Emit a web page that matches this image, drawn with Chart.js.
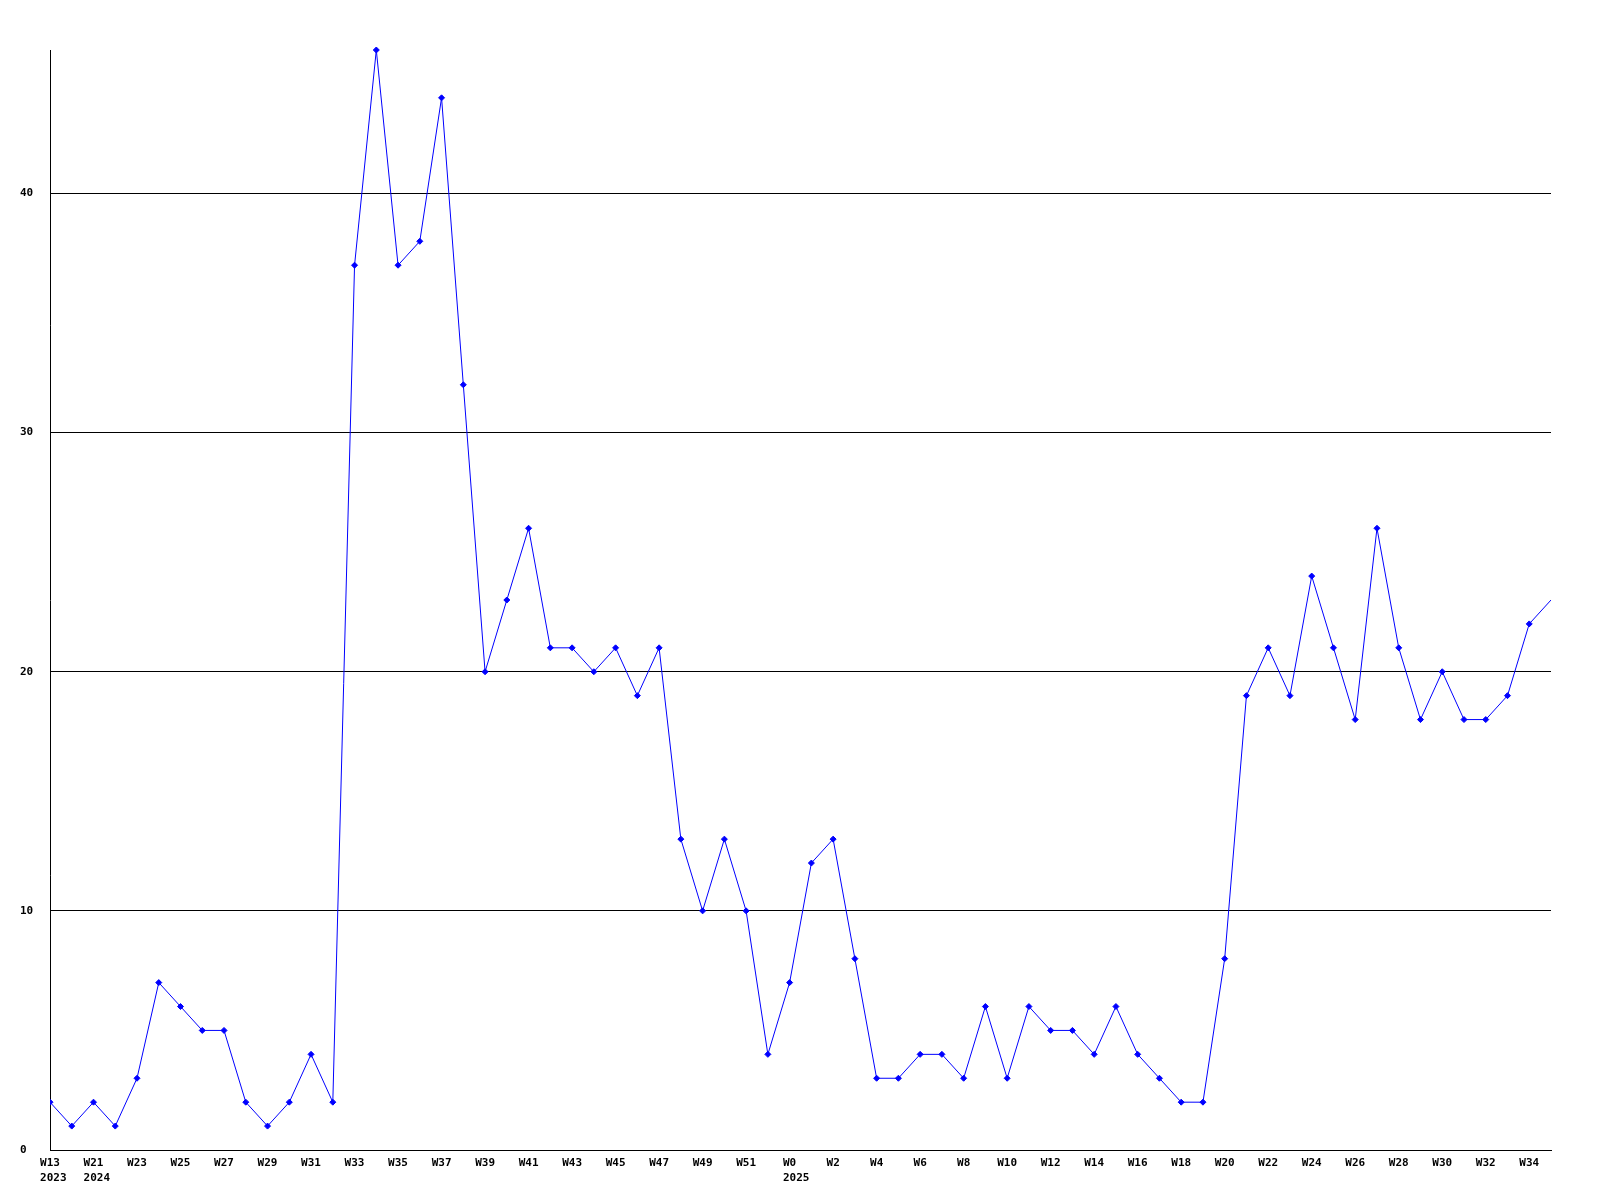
<!DOCTYPE html>
<html>
<head>
<meta charset="utf-8">
<script src="https://cdn.jsdelivr.net/npm/chart.js@4/dist/chart.umd.min.js"></script>
<style>
  body { margin: 0; background: #fff; }
  canvas { display: block; }
</style>
</head>
<body>
<canvas id="chart" width="1600" height="1200"></canvas>
<script>
// week labels, one per point (only every other one is printed)
const weeks = [
  'W13', 'W20', 'W21', 'W22', 'W23', 'W24', 'W25', 'W26', 'W27', 'W28',
  'W29', 'W30', 'W31', 'W32', 'W33', 'W34', 'W35', 'W36', 'W37', 'W38',
  'W39', 'W40', 'W41', 'W42', 'W43', 'W44', 'W45', 'W46', 'W47', 'W48',
  'W49', 'W50', 'W51', 'W52', 'W0', 'W1', 'W2', 'W3', 'W4', 'W5',
  'W6', 'W7', 'W8', 'W9', 'W10', 'W11', 'W12', 'W13', 'W14', 'W15',
  'W16', 'W17', 'W18', 'W19', 'W20', 'W21', 'W22', 'W23', 'W24', 'W25',
  'W26', 'W27', 'W28', 'W29', 'W30', 'W31', 'W32', 'W33', 'W34', 'W35'
]
// year shown under the week where it starts
const years = [[0, '2023'], [2, '2024'], [34, '2025']]

const counts = [
  2, 1, 2, 1, 3, 7, 6, 5, 5, 2,
  1, 2, 4, 2, 37, 46, 37, 38, 44, 32,
  20, 23, 26, 21, 21, 20, 21, 19, 21, 13,
  10, 13, 10, 4, 7, 12, 13, 8, 3, 3,
  4, 4, 3, 6, 3, 6, 5, 5, 4, 6,
  4, 3, 2, 2, 8, 19, 21, 19, 24, 21,
  18, 26, 21, 18, 20, 18, 18, 19, 22, 23
]

const yTicks = [0, 10, 20, 30, 40]
const yMax = 46

const font = { family: 'DejaVu Sans Mono', size: 11, weight: 'bold', lineHeight: 1.35 }

const labels = weeks.map((w, i) => {
  const y = years.find(p => p[0] === i)
  if (!y) return w
  // pad so the year starts where the week label starts
  return [w, ' '.repeat(Math.max(0, 4 - w.length)) + y[1]]
})

new Chart(document.getElementById('chart'), {
  type: 'line',
  data: {
    labels: labels,
    datasets: [{
      data: counts,
      borderColor: '#0000ff',
      backgroundColor: '#0000ff',
      borderWidth: 1,
      tension: 0,
      clip: { left: 0, top: 4, right: 0, bottom: 4 },
      pointStyle: 'rectRot',
      pointRadius: (ctx) => ctx.dataIndex === counts.length - 1 ? 0 : 3,
      pointBorderWidth: 1
    }]
  },
  options: {
    responsive: false,
    animation: false,
    layout: { padding: { left: 20, top: 50, right: 49, bottom: 0 } },
    plugins: {
      legend: { display: false },
      tooltip: { enabled: false }
    },
    scales: {
      x: {
        type: 'category',
        offset: false,
        grid: { display: false, drawTicks: false },
        border: { display: true, color: '#000', width: 1 },
        ticks: {
          color: '#000',
          font: font,
          autoSkip: false,
          maxRotation: 0,
          minRotation: 0,
          padding: 6,
          callback: function (value, index) {
            return index % 2 === 0 ? this.getLabelForValue(value) : ''
          }
        },
        afterFit: (scale) => { scale.height = 50 }
      },
      y: {
        min: 0,
        max: yMax,
        afterBuildTicks: (scale) => { scale.ticks = yTicks.map(v => ({ value: v })) },
        grid: { color: '#000', lineWidth: 1, drawTicks: false },
        border: { display: true, color: '#000', width: 1 },
        ticks: {
          color: '#000',
          font: font,
          crossAlign: 'far',
          padding: 0
        },
        afterFit: (scale) => { scale.width = 30 }
      }
    }
  }
})
</script>
</body>
</html>
